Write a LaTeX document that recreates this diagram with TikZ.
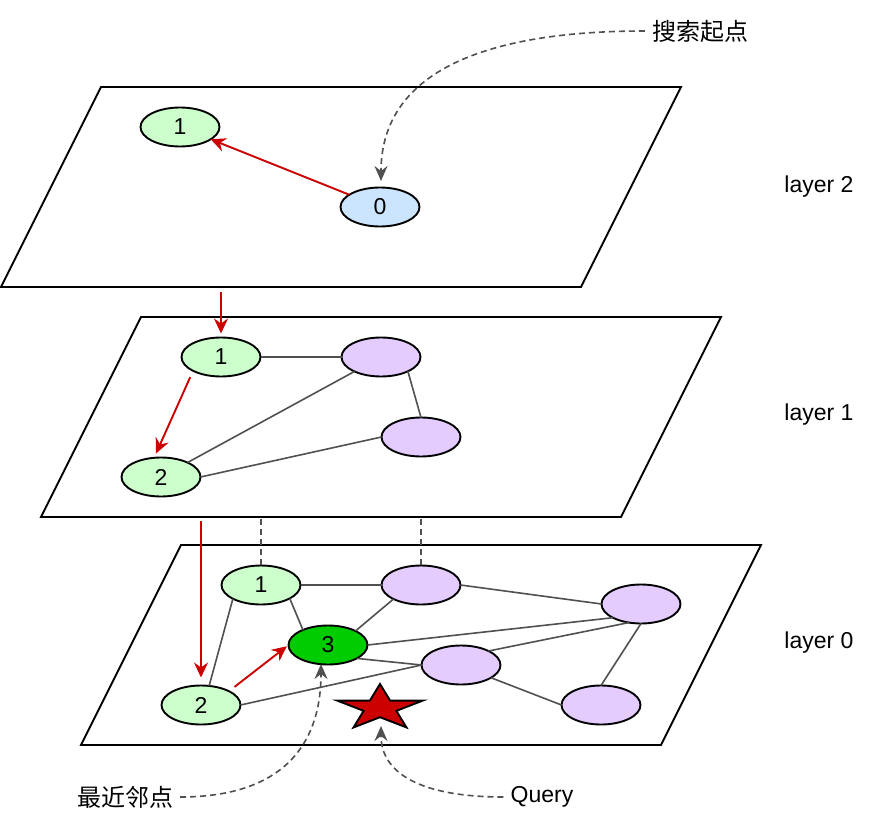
\documentclass[tikz,border=0pt]{standalone}
\usepackage{fontspec}
\setmainfont{Liberation Sans}
\newfontfamily\cjk{Noto Sans CJK SC}
\usetikzlibrary{arrows.meta,shapes.geometric}
\definecolor{greenlight}{HTML}{CCFFCC}
\definecolor{bluelight}{HTML}{CCE5FF}
\definecolor{purplelight}{HTML}{E5CCFF}
\definecolor{greendark}{HTML}{00CC00}
\definecolor{redline}{HTML}{CC0000}
\definecolor{edgegray}{HTML}{505050}
\begin{document}
\begin{tikzpicture}[x=1pt, y=-1pt,
    vertex/.style={ellipse, draw, line width=1.9pt, minimum width=79pt, minimum height=39pt,
        inner sep=0pt, outer sep=0pt, font=\fontsize{23}{27}\selectfont},
    plane/.style={draw, line width=1.9pt},
    edgeline/.style={draw=edgegray, line width=1.6pt},
    redarrow/.style={draw=redline, line width=1.9pt, -{Stealth[length=15pt, width=14pt, inset=5pt]}},
    curvearrow/.style={draw=edgegray, line width=1.6pt, dash pattern=on 6pt off 4pt,
        -{Stealth[length=15pt, width=13pt, inset=5pt]}},
    linkdash/.style={draw=edgegray, line width=1.6pt, dash pattern=on 6pt off 4pt},
    textlabel/.style={inner sep=7pt, font=\fontsize{23}{27}\selectfont},
    starfill/.style={fill=redline, draw=black, line width=1.9pt}]
    \useasboundingbox (0,0) rectangle (882,826);

    % the three layers
    \draw[plane] (101,87) -- (681,87) -- (581,287) -- (1,287) -- cycle;
    \draw[plane] (141,317) -- (721,317) -- (621,517) -- (41,517) -- cycle;
    \draw[plane] (181,545) -- (761,545) -- (661,745) -- (81,745) -- cycle;

    \node (L2) at (819,187) [textlabel] {layer 2};
    \node (L1) at (819,415) [textlabel] {layer 1};
    \node (L0) at (819,643) [textlabel] {layer 0};

    % layer 2
    \node[vertex, fill=greenlight] (A1) at (180,127) {1};
    \node[vertex, fill=bluelight] (A0) at (380,207) {0};
    \draw[redarrow] (A0) -- (A1);

    % layer 1
    \node[vertex, fill=greenlight] (B1) at (221,357) {1};
    \node[vertex, fill=purplelight] (BP) at (381,357) {};
    \node[vertex, fill=purplelight] (BQ) at (421,437) {};
    \node[vertex, fill=greenlight] (B2) at (161,477) {2};
    \draw[edgeline] (B1.east) -- (BP.west);
    \draw[edgeline] (BP.-28) -- (BQ.north);
    \draw[edgeline] (B2) -- (BP);
    \draw[edgeline] (B2.east) -- (BQ.west);

    % layer 0
    \node[vertex, fill=greenlight] (C1) at (261,585) {1};
    \node[vertex, fill=purplelight] (CP) at (421,585) {};
    \node[vertex, fill=purplelight] (CQ) at (641,604) {};
    \node[vertex, fill=greendark] (C3) at (328,645) {3};
    \node[vertex, fill=purplelight] (CR) at (461,665) {};
    \node[vertex, fill=greenlight] (C2) at (201,705) {2};
    \node[vertex, fill=purplelight] (CS) at (601,705) {};
    \draw[edgeline] (C1.east) -- (CP.west);
    \draw[edgeline] (CP.east) -- (CQ.west);
    \draw[edgeline] (C1.-25) -- (C3.149);
    \draw[edgeline] (C2.67) -- (C1.206);
    \draw[edgeline] (C3.27) -- (CP.207);
    \draw[edgeline] (C3.east) -- (CQ.206);
    \draw[edgeline] (CR.27) -- (CQ.-123);
    \draw[edgeline] (CQ.south) -- (CS.north);
    \draw[edgeline] (CR.-23) -- (CS.west);
    \draw[edgeline] (C3.-25) -- (CR.west);
    \draw[edgeline] (C2.east) -- (CR.west);

    % the query
    \begin{scope}[shift={(380,708)}]
        \draw[starfill] (-90:45 and 24)
            \foreach \a in {-54,18,90,162,234} {-- (\a:17.2 and 9.2) -- ({\a+36}:45 and 24)} -- cycle;
    \end{scope}

    % search path
    \coordinate (r2) at (221,292);
    \coordinate (r1) at (201,521);
    \draw[redarrow] (r2) -- ([yshift=4pt]B1.north);
    \draw[redarrow, shorten <=7pt] (B1.south west) -- ([xshift=-5pt,yshift=4pt]B2.north);
    \draw[redarrow] (r1) -- ([yshift=8pt]C2.north);
    \draw[redarrow, shorten <=7pt, shorten >=2pt] (C2.north east) -- (C3.west);

    % same points between layers
    \coordinate (b1) at (261,519);
    \coordinate (b2) at (421,519);
    \draw[linkdash] (b1) -- (C1.north);
    \draw[linkdash] (b2) -- (CP.north);

    % notes
    \node[textlabel, font=\fontsize{24}{28}\selectfont\cjk] (start) at (700,31) {搜索起点};
    \node[textlabel, font=\fontsize{24}{28}\selectfont\cjk] (near) at (125,797) {最近邻点};
    \node[textlabel] (query) at (542,797) {Query};
    \coordinate (s0) at (381,181);
    \coordinate (s3) at (321,664);
    \coordinate (sq) at (381,726);
    \draw[curvearrow] (start.west) .. controls (467,31) and (381,81) .. (s0);
    \draw[curvearrow] (near.east) .. controls (274,797) and (321,753) .. (s3);
    \draw[curvearrow] (query.west) .. controls (422,797) and (381,774) .. (sq);
\end{tikzpicture}
\end{document}
